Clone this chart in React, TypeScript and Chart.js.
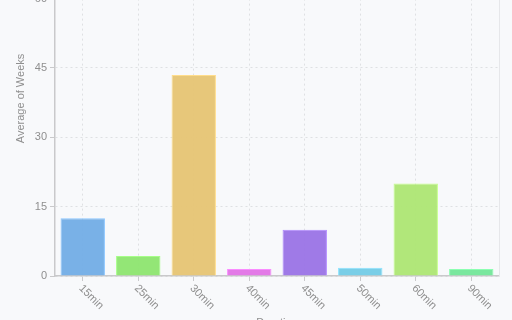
import React, { useEffect, useRef } from "react";
import { Chart, registerables } from "chart.js";

Chart.register(...registerables);

const categories = ["15min", "25min", "30min", "40min", "45min", "50min", "60min", "90min"];
const weeks = [12.5, 4.3, 43.5, 1.5, 10.0, 1.8, 20.0, 1.5];
const barColors = [
  [114, 173, 230],
  [141, 229, 111],
  [230, 196, 115],
  [225, 115, 230],
  [154, 115, 230],
  [115, 203, 230],
  [173, 230, 115],
  [115, 230, 153],
];
const yTicks = [0, 15, 30, 45, 60];
const yTitle = "Average of Weeks";
const xTitle = "Duration";

const FONT = "'Liberation Sans', Arial, sans-serif";
const TEXT = "#8f8f8f";
const GRID = "#dfe0e3";
const AXIS = "#c9c9cb";

const yTitlePlugin = {
  id: "yTitlePlugin",
  afterDraw(chart: any) {
    const { ctx, chartArea } = chart;
    ctx.save();
    ctx.fillStyle = TEXT;
    ctx.font = `11px ${FONT}`;
    ctx.textAlign = "center";
    ctx.textBaseline = "middle";
    ctx.translate(21, chartArea.top + (chartArea.bottom - chartArea.top) * 0.36);
    ctx.rotate(-Math.PI / 2);
    ctx.fillText(yTitle, 0, 0);
    ctx.restore();
  },
};

export default function App() {
  const ref = useRef<HTMLCanvasElement | null>(null);

  useEffect(() => {
    if (!ref.current) return;
    const chart = new Chart(ref.current, {
      type: "bar",
      data: {
        labels: categories,
        datasets: [
          {
            label: yTitle,
            data: weeks,
            backgroundColor: barColors.map((c) => `rgba(${c[0]},${c[1]},${c[2]},0.95)`),
            borderColor: barColors.map(
              (c) => `rgba(${Math.min(255, c[0] + 25)},${Math.min(255, c[1] + 25)},${Math.min(255, c[2] + 25)},1)`
            ),
            borderWidth: 1,
            categoryPercentage: 0.8,
            barPercentage: 1,
          },
        ],
      },
      options: {
        animation: false,
        responsive: true,
        maintainAspectRatio: false,
        layout: { padding: { left: 10, right: 13, top: 0, bottom: 0 } },
        plugins: { legend: { display: false }, tooltip: { enabled: false } },
        scales: {
          x: {
            offset: true,
            grid: {
              offset: false,
              color: GRID,
              tickColor: AXIS,
              tickLength: 5,
            },
            border: { color: AXIS, width: 1.5, dash: [2, 3] },
            ticks: {
              autoSkip: false,
              minRotation: -45,
              maxRotation: -45,
              labelOffset: 19,
              padding: 22,
              color: TEXT,
              font: { family: FONT, size: 11 },
            },
            title: {
              display: true,
              text: xTitle,
              color: TEXT,
              font: { family: FONT, size: 11 },
            },
            afterFit: (s: any) => {
              s.height = 58;
            },
          },
          y: {
            min: 0,
            max: 60,
            afterBuildTicks: (s: any) => {
              s.ticks = yTicks.map((v) => ({ value: v }));
            },
            grid: { color: GRID, tickColor: AXIS, tickLength: 5 },
            border: { color: AXIS, width: 1.5, dash: [2, 3] },
            ticks: { color: TEXT, padding: 3, font: { family: FONT, size: 11 } },
            title: { display: false },
            afterFit: (s: any) => {
              s.width = 45;
            },
          },
          yr: {
            position: "right",
            min: 0,
            max: 60,
            grid: { drawOnChartArea: false, drawTicks: false },
            border: { color: "#e6e7ea", width: 1 },
            ticks: { display: false },
            afterFit: (s: any) => {
              s.width = 0;
            },
          },
        },
      },
      plugins: [yTitlePlugin],
    });
    return () => chart.destroy();
  }, []);

  return (
    <div style={{ position: "fixed", inset: 0, background: "#f8f9fb" }}>
      <div style={{ position: "absolute", left: 0, top: -11, width: 512, height: 345 }}>
        <canvas ref={ref} />
      </div>
    </div>
  );
}
